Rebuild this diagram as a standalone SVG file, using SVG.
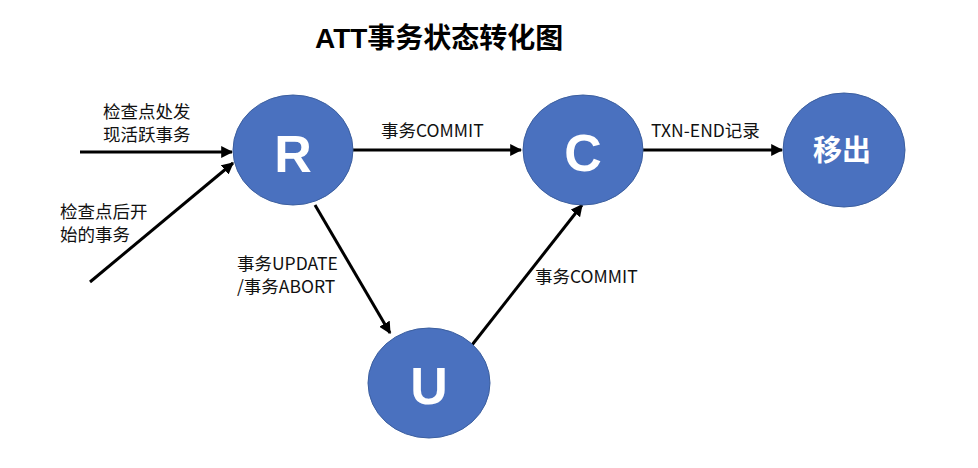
<svg xmlns="http://www.w3.org/2000/svg" width="978" height="468" viewBox="0 0 978 468">
<style>
.node{fill:#4a71bf;stroke:#3c5f9f;stroke-width:1}
.lt{fill:#fff;font-family:"Liberation Sans","Noto Sans CJK SC",sans-serif;text-anchor:middle;font-weight:bold}
.lbl{fill:#111;font-family:"Noto Sans CJK SC","Liberation Sans",sans-serif;font-size:17.5px}
.e{stroke:#000;stroke-width:3;fill:none;marker-end:url(#ah)}
</style>
<defs>
<marker id="ah" viewBox="0 0 10 10" refX="9" refY="5" markerWidth="4" markerHeight="4" orient="auto" markerUnits="strokeWidth">
<path d="M0,0 L10,5 L0,10 z" fill="#000"/>
</marker>
</defs>
<rect width="978" height="468" fill="#fff"/>
<text x="315" y="48" font-family="Liberation Sans,'Noto Sans CJK SC',sans-serif" font-weight="bold" font-size="28" fill="#000">ATT事务状态转化图</text>
<g id="connectors">
<line class="e" x1="80" y1="152" x2="232" y2="152"/>
<line class="e" x1="90" y1="282" x2="233" y2="163"/>
<line class="e" x1="353" y1="150" x2="521" y2="150"/>
<line class="e" x1="643" y1="150" x2="782" y2="150"/>
<line class="e" x1="315" y1="205" x2="390" y2="333"/>
<line class="e" x1="472" y1="345" x2="582" y2="205"/>
</g>
<g id="labels">
<text class="lbl" x="103" y="118">检查点处发</text>
<text class="lbl" x="103" y="141">现活跃事务</text>
<text class="lbl" x="60" y="218">检查点后开</text>
<text class="lbl" x="60" y="241">始的事务</text>
<text class="lbl" x="381" y="137">事务COMMIT</text>
<text class="lbl" x="651" y="137">TXN-END记录</text>
<text class="lbl" x="237" y="270">事务UPDATE</text>
<text class="lbl" x="237" y="293">/事务ABORT</text>
<text class="lbl" x="535" y="283">事务COMMIT</text>
</g>
<g id="node-R"><ellipse class="node" cx="293" cy="150" rx="60" ry="55"/><text class="lt" x="293" y="172" font-size="52">R</text></g>
<g id="node-C"><ellipse class="node" cx="583" cy="150" rx="60" ry="55"/><text class="lt" x="583" y="171" font-size="52">C</text></g>
<g id="node-out"><ellipse class="node" cx="844" cy="150" rx="61" ry="57"/><text class="lt" x="842" y="161" font-size="29">移出</text></g>
<g id="node-U"><ellipse class="node" cx="429" cy="383" rx="61" ry="55"/><text class="lt" x="429" y="404" font-size="52">U</text></g>
</svg>
